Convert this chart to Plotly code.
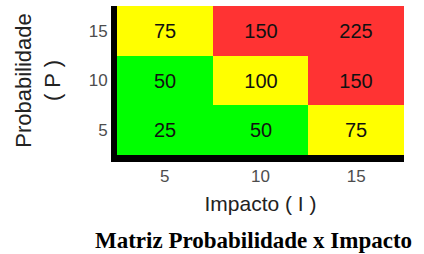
import plotly.graph_objects as go

impacto = [5, 10, 15]
probabilidade = [5, 10, 15]
# scores per row (probabilidade 5, 10, 15) and column (impacto 5, 10, 15)
scores = [
    [25, 50, 75],
    [50, 100, 150],
    [75, 150, 225],
]
# risk class per cell: 0 = low (green), 1 = medium (yellow), 2 = high (red)
risk_class = [
    [0, 0, 1],
    [0, 1, 2],
    [1, 2, 2],
]

GREEN = "#00FF00"
YELLOW = "#FFFF00"
RED = "#FF3333"

fig = go.Figure(
    go.Heatmap(
        x=impacto,
        y=probabilidade,
        z=risk_class,
        text=scores,
        texttemplate="%{text}",
        textfont=dict(family="Liberation Sans, Arial", size=20, color="#111111"),
        colorscale=[[0, GREEN], [1/3, GREEN], [1/3, YELLOW], [2/3, YELLOW], [2/3, RED], [1, RED]],
        zmin=-0.5,
        zmax=2.5,
        showscale=False,
        hoverinfo="skip",
    )
)

fig.update_layout(
    width=424,
    height=254,
    margin=dict(l=117, r=20, t=6, b=99),
    paper_bgcolor="white",
    plot_bgcolor="white",
    font=dict(family="Liberation Sans, Arial", color="#333333"),
    xaxis=dict(
        tickvals=impacto,
        ticktext=[str(v) for v in impacto],
        tickfont=dict(size=17, color="#4d4d4d"),
        showline=True,
        linecolor="black",
        linewidth=7,
        showgrid=False,
        zeroline=False,
        ticks="",
        automargin=False,
        title=dict(text="Impacto ( I )", font=dict(size=21, color="#222222"), standoff=13),
    ),
    yaxis=dict(
        tickvals=probabilidade,
        ticktext=[str(v) for v in probabilidade],
        tickfont=dict(size=17, color="#4d4d4d"),
        showline=True,
        linecolor="black",
        linewidth=6,
        showgrid=False,
        zeroline=False,
        ticks="",
        automargin=False,
        title=dict(text="Probabilidade<br>( P )", font=dict(size=22, color="#222222"), standoff=24),
    ),
    annotations=[
        dict(
            text="<b>Matriz Probabilidade x Impacto</b>",
            xref="paper", yref="paper",
            x=0.475, y=-0.577,
            xanchor="center", yanchor="middle",
            showarrow=False,
            font=dict(family="Liberation Serif, Times New Roman", size=23, color="black"),
        )
    ],
)

fig.write_html(
    "out.html",
    config={"displayModeBar": False},
    post_script="document.body.style.margin='0';document.body.style.overflow='hidden';",
)
